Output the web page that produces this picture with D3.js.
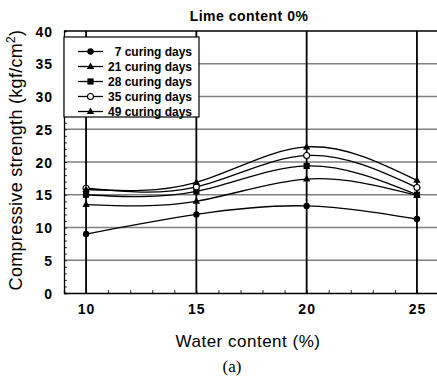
<!DOCTYPE html>
<html lang="en">
    <head>
        <meta charset="utf-8">
        <title>Lime content 0%</title>
        <script src="https://d3js.org/d3.v7.min.js"></script>
        <style>
            body { margin: 0; background: #fff; }
            text { font-family: "Liberation Sans", Arial, sans-serif; fill: #000; }
        </style>
    </head>

    <body>
        <div id="vis"></div>

        <script>

            // chart data
            const waterContent = [10, 15, 20, 25];
            const seriesNames = ["7 curing days", "21 curing days", "28 curing days", "35 curing days", "49 curing days"];
            const days7  = [9.0, 12.0, 13.3, 11.3];
            const days21 = [13.5, 14.0, 17.4, 14.9];
            const days28 = [15.0, 15.5, 19.4, 15.0];
            const days35 = [16.0, 16.2, 21.0, 16.1];
            const days49 = [15.8, 16.9, 22.3, 17.2];
            const markers = ["dot", "tri", "square", "ring", "tri"];
            const yTicks = [0, 5, 10, 15, 20, 25, 30, 35, 40];

            const allSeries = [days7, days21, days28, days35, days49];

            const width = 437;
            const height = 383;
            const font = '"Liberation Sans", Arial, sans-serif';

            const svg = d3.select("#vis")
                    .append("svg")
                    .attr('width', width)
                    .attr('height', height);

            const xScale = d3.scaleLinear().domain([9, 26]).range([64, 439]);
            const yScale = d3.scaleLinear().domain([0, 40]).range([293, 31]);

            // grid lines
            svg.append('g')
                .selectAll('line')
                .data(yTicks.filter(v => v > 0 && v < 40))
                .enter()
                .append('line')
                .attr('x1', xScale(9)).attr('x2', width)
                .attr('y1', d => yScale(d)).attr('y2', d => yScale(d))
                .attr('stroke', '#808080')
                .attr('stroke-width', 1.6);

            svg.append('g')
                .selectAll('line')
                .data(waterContent)
                .enter()
                .append('line')
                .attr('x1', d => xScale(d)).attr('x2', d => xScale(d))
                .attr('y1', yScale(40)).attr('y2', yScale(0))
                .attr('stroke', '#000')
                .attr('stroke-width', 1.8);

            // frame top
            svg.append('line')
                .attr('x1', xScale(9)).attr('x2', width)
                .attr('y1', yScale(40)).attr('y2', yScale(40))
                .attr('stroke', '#000').attr('stroke-width', 1.3);

            // y axis with minor ticks inside
            svg.append('g')
                .attr('transform', `translate(${xScale(9)},0)`)
                .call(d3.axisRight(yScale).ticks(40).tickSize(3).tickFormat(''))
                .call(g => g.select('.domain').attr('stroke-width', 1.3))
                .call(g => g.selectAll('.tick line').attr('stroke-width', 0.8));

            svg.append('g')
                .attr('transform', `translate(${xScale(9)},0)`)
                .call(d3.axisLeft(yScale).tickValues(yTicks).tickSize(0).tickPadding(11))
                .call(g => g.select('.domain').remove())
                .selectAll('text')
                .attr('dy', '0.36em')
                .style('font-size', '14px')
                .style('font-weight', 'bold')
                .style('letter-spacing', '1px')
                .style('font-family', font);

            // x axis
            svg.append('g')
                .attr('transform', `translate(0,${yScale(0)})`)
                .call(d3.axisTop(xScale).ticks(17).tickSize(3).tickFormat(''))
                .call(g => g.select('.domain').attr('stroke-width', 1.3))
                .call(g => g.selectAll('.tick line').attr('stroke-width', 0.8));

            svg.append('g')
                .attr('transform', `translate(0,${yScale(0)})`)
                .call(d3.axisBottom(xScale).tickValues(waterContent).tickSize(0).tickPadding(11))
                .call(g => g.select('.domain').remove())
                .selectAll('text')
                .style('font-size', '14px')
                .style('font-weight', 'bold')
                .style('letter-spacing', '1px')
                .style('font-family', font);

            // lines
            const line = d3.line()
                .x((d, i) => xScale(waterContent[i]))
                .y(d => yScale(d))
                .curve(d3.curveNatural);

            svg.append('g')
                .selectAll('path')
                .data(allSeries)
                .enter()
                .append('path')
                .attr('d', d => line(d))
                .attr('fill', 'none')
                .attr('stroke', '#000')
                .attr('stroke-width', 1.3);

            function drawMarker(g, type, x, y) {
                if (type === 'dot') {
                    g.append('circle').attr('cx', x).attr('cy', y).attr('r', 3.2).attr('fill', '#000');
                } else if (type === 'ring') {
                    g.append('circle').attr('cx', x).attr('cy', y).attr('r', 3).attr('fill', '#fff')
                        .attr('stroke', '#000').attr('stroke-width', 1.1);
                } else if (type === 'square') {
                    g.append('rect').attr('x', x - 3.1).attr('y', y - 3.1).attr('width', 6.2).attr('height', 6.2).attr('fill', '#000');
                } else {
                    g.append('path')
                        .attr('d', `M${x},${y - 4}L${x + 3.7},${y + 2.5}L${x - 3.7},${y + 2.5}Z`)
                        .attr('fill', '#000');
                }
            }

            const markG = svg.append('g');
            allSeries.forEach(function(s, si){
                s.forEach(function(v, i){
                    drawMarker(markG, markers[si], xScale(waterContent[i]), yScale(v));
                });
            });

            // legend
            const legend = svg.append('g');
            legend.append('rect')
                .attr('x', 64).attr('y', 37)
                .attr('width', 135).attr('height', 80)
                .attr('fill', '#fff')
                .attr('stroke', '#000').attr('stroke-width', 1.2);

            seriesNames.forEach(function(name, i){
                const ly = 51.5 + i * 15;
                legend.append('line')
                    .attr('x1', 78).attr('x2', 103)
                    .attr('y1', ly).attr('y2', ly)
                    .attr('stroke', '#000').attr('stroke-width', 1.3);
                drawMarker(legend, markers[i], 90.5, ly);
                legend.append('text')
                    .attr('x', 192).attr('y', ly + 4)
                    .attr('text-anchor', 'end')
                    .style('font-size', '12px')
                    .style('font-weight', 'bold')
                    .text(name);
            });

            // titles
            svg.append('text')
                .attr('x', 249).attr('y', 21)
                .attr('text-anchor', 'middle')
                .style('font-size', '14px')
                .style('font-weight', 'bold')
                .style('letter-spacing', '0.5px')
                .text('Lime content 0%');

            svg.append('text')
                .attr('transform', 'translate(22,160) rotate(-90)')
                .attr('text-anchor', 'middle')
                .style('font-size', '18px')
                .style('letter-spacing', '0.3px')
                .html('Compressive strength (kgf/cm<tspan dy="-7" font-size="12px">2</tspan><tspan dy="7">)</tspan>');

            svg.append('text')
                .attr('x', 248).attr('y', 347)
                .attr('text-anchor', 'middle')
                .style('font-size', '17px')
                .style('letter-spacing', '0.5px')
                .text('Water content (%)');

            svg.append('text')
                .attr('x', 232).attr('y', 372)
                .attr('text-anchor', 'middle')
                .style('font-size', '17px')
                .style('font-family', '"Liberation Serif", "Times New Roman", serif')
                .text('(a)');
        </script>
    </body>
</html>
